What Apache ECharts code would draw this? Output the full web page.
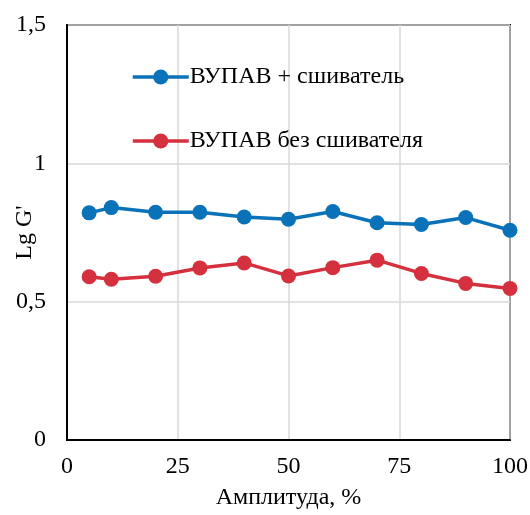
<!DOCTYPE html>
<html><head><meta charset="utf-8">
<script src="https://cdn.jsdelivr.net/npm/echarts@6/dist/echarts.min.js"></script>
<style>html,body{margin:0;padding:0;background:#fff}#c{width:530px;height:515px}</style>
</head><body><div id="c"></div>
<script>
var amplitude = [5, 10, 20, 30, 40, 50, 60, 70, 80, 90, 100];
var withCrosslinker = [0.821, 0.840, 0.823, 0.823, 0.806, 0.798, 0.826, 0.785, 0.779, 0.804, 0.758];
var withoutCrosslinker = [0.590, 0.581, 0.592, 0.622, 0.640, 0.593, 0.623, 0.650, 0.602, 0.566, 0.548];
var seriesNames = ['ВУПАВ + сшиватель', 'ВУПАВ без сшивателя'];
var xTitle = 'Амплитуда, %';
var yTitle = "Lg G'";

function pairs(xs, ys){ return xs.map(function(x,i){ return [x, ys[i]]; }); }
var font = "'Liberation Serif', 'DejaVu Serif', serif";
var legendBase = {
  orient: 'vertical', left: 126, itemWidth: 56, itemHeight: 19, itemGap: 0,
  lineStyle: {width: 3.5},
  textStyle: {fontFamily: font, fontSize: 24, color: '#000', padding: [0,0,0,-4]}
};
var chart = echarts.init(document.getElementById('c'));
chart.setOption({
  animation: false,
  backgroundColor: '#fff',
  grid: {left: 67, right: 20, top: 25, bottom: 75, outerBoundsMode: 'none', containLabel: false,
         show: true, borderColor: '#000', borderWidth: 2, backgroundColor: 'transparent'},
  legend: [
    Object.assign({}, legendBase, {top: 60, data: [seriesNames[0]]}),
    Object.assign({}, legendBase, {top: 124, data: [seriesNames[1]]})
  ],
  xAxis: {
    type: 'value', min: 0, max: 100, interval: 25,
    name: xTitle, nameLocation: 'middle', nameGap: 46, nameMoveOverlap: false,
    nameTextStyle: {fontFamily: font, fontSize: 24, color: '#000'},
    axisLine: {show: true, lineStyle: {color: '#000', width: 2}},
    axisTick: {show: false},
    axisLabel: {fontFamily: font, fontSize: 24, color: '#000', margin: 15},
    splitLine: {show: true, lineStyle: {color: '#d9d9d9', width: 1.5}}
  },
  yAxis: {
    type: 'value', min: 0, max: 1.5, interval: 0.5,
    name: yTitle, nameLocation: 'middle', nameGap: 30, nameMoveOverlap: false,
    nameTextStyle: {fontFamily: font, fontSize: 24, color: '#000'},
    axisLine: {show: true, lineStyle: {color: '#000', width: 2}},
    axisTick: {show: false},
    axisLabel: {fontFamily: font, fontSize: 24, color: '#000', margin: 21,
      formatter: function(v){ return String(v).replace('.', ','); }},
    splitLine: {show: true, lineStyle: {color: '#d9d9d9', width: 1.5}}
  },
  series: [
    {name: seriesNames[0], type: 'line', data: pairs(amplitude, withCrosslinker),
     symbol: 'circle', symbolSize: 15, color: '#0a72b8', lineStyle: {width: 3.5, color: '#0a72b8'}, itemStyle: {color: '#0a72b8'}},
    {name: seriesNames[1], type: 'line', data: pairs(amplitude, withoutCrosslinker),
     symbol: 'circle', symbolSize: 15, color: '#d5303d', lineStyle: {width: 3.5, color: '#d5303d'}, itemStyle: {color: '#d5303d'}}
  ]
});
</script></body></html>
